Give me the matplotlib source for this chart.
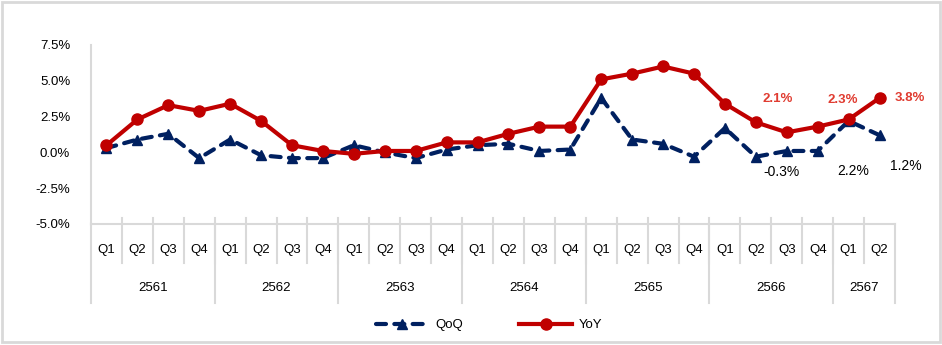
import matplotlib
matplotlib.use('Agg')
import matplotlib.pyplot as plt
import matplotlib.transforms as mtransforms
from matplotlib.patches import Rectangle

plt.rcParams['font.family'] = ['Liberation Sans', 'DejaVu Sans']

quarters = ['Q1', 'Q2', 'Q3', 'Q4'] * 6 + ['Q1', 'Q2']
years = ['2561', '2562', '2563', '2564', '2565', '2566', '2567']
year_len = [4, 4, 4, 4, 4, 4, 2]

qoq = [0.3, 0.9, 1.3, -0.4, 0.9, -0.2, -0.4, -0.4,
       0.5, 0.0, -0.4, 0.2, 0.5, 0.6, 0.1, 0.2,
       3.8, 0.9, 0.6, -0.3, 1.7, -0.3, 0.1, 0.1,
       2.2, 1.2]
yoy = [0.5, 2.3, 3.3, 2.9, 3.4, 2.2, 0.5, 0.1,
       -0.1, 0.1, 0.1, 0.7, 0.7, 1.3, 1.8, 1.8,
       5.1, 5.5, 6.0, 5.5, 3.4, 2.1, 1.4, 1.8,
       2.3, 3.8]

# labelled points and where their text sits (pixel offsets)
yoy_lab = {21: (22, 23), 24: (-6, 19), 25: (30, 0)}
qoq_lab = {21: (26, -15), 24: (5, -50), 25: (26, -31)}

RED = '#C00000'
NAVY = '#002060'
GRID = '#D9D9D9'

W, H = 942, 345
fig = plt.figure(figsize=(W / 100, H / 100), dpi=100)
ax = fig.add_axes([91 / W, 1 - 224 / H, 804 / W, 179 / H])

n = len(quarters)
x = list(range(n))

ax.plot(x, qoq, color=NAVY, lw=3, marker='^', ms=7.5, dashes=(2.4, 2.0),
        dash_capstyle='round', label='QoQ', zorder=3)
ax.plot(x, yoy, color=RED, lw=3, marker='o', ms=8, label='YoY', zorder=4)

ax.set_xlim(-0.5, n - 0.5)
ax.set_ylim(-5, 7.5)
ax.set_yticks([-5, -2.5, 0, 2.5, 5, 7.5])
ax.set_yticklabels(['%.1f%%' % v for v in [-5, -2.5, 0, 2.5, 5, 7.5]])
ax.tick_params(axis='y', length=0, pad=15, labelsize=9.5)
ax.set_xticks([])

for s in ['top', 'right']:
    ax.spines[s].set_visible(False)
for s in ['left', 'bottom']:
    ax.spines[s].set_color(GRID)
    ax.spines[s].set_linewidth(1.5)

# value labels
for i, off in yoy_lab.items():
    ax.annotate('%.1f%%' % yoy[i], (i, yoy[i]), xytext=off,
                textcoords='offset pixels', ha='center', va='center',
                color='#E03C31', fontsize=9.5, fontweight='bold')
for i, off in qoq_lab.items():
    ax.annotate('%.1f%%' % qoq[i], (i, qoq[i]), xytext=off,
                textcoords='offset pixels', ha='center', va='center', fontsize=10)

# two-level category axis under the plot
tr = mtransforms.blended_transform_factory(ax.transData, ax.transAxes)
px = 1 / 179
line_kw = dict(color=GRID, lw=1.5, transform=tr, clip_on=False)
for i in range(n - 1):
    ax.plot([i + 0.5, i + 0.5], [6 * px, -39 * px], **line_kw)
for i, q in enumerate(quarters):
    ax.text(i, -26 * px, q, transform=tr, ha='center', va='center', fontsize=9.5)

start = 0
for yr, ln in zip(years, year_len):
    ax.plot([start - 0.5, start - 0.5], [0, -79 * px], **line_kw)
    ax.text(start + (ln - 1) / 2, -64 * px, yr, transform=tr,
            ha='center', va='center', fontsize=9.5)
    start += ln
ax.plot([n - 0.5, n - 0.5], [0, -79 * px], **line_kw)

leg = fig.legend(loc='center', bbox_to_anchor=(489 / W, 1 - 325 / H), ncol=2,
                 frameon=False, fontsize=9.5, handlelength=4.0,
                 columnspacing=4.3, handletextpad=0.5)

# outer frame
fig.patches.append(Rectangle((2 / W, 3 / H), 938 / W, 340 / H, transform=fig.transFigure,
                             fill=False, edgecolor=GRID, lw=2))

fig.savefig('out.png', dpi=100)
